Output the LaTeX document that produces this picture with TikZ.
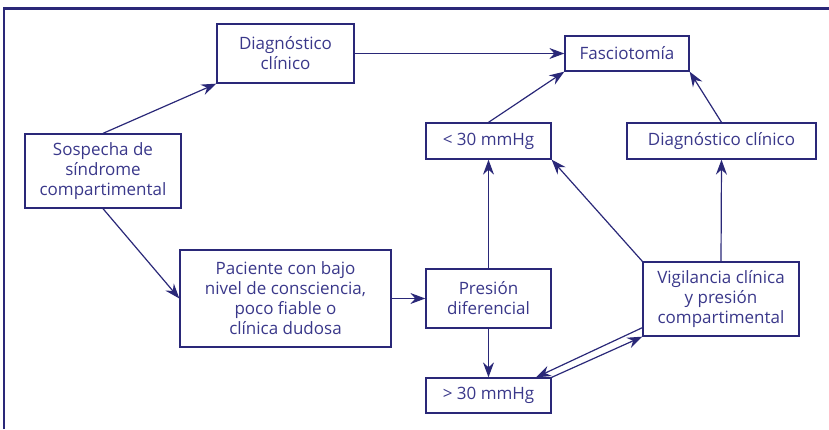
\documentclass[tikz,border=0pt]{standalone}
\usepackage{fontspec}
\setmainfont{Open Sans}
\usetikzlibrary{arrows.meta,calc}
\definecolor{navy}{RGB}{42,40,120}
\definecolor{txt}{RGB}{58,56,138}
\begin{document}
\begin{tikzpicture}[x=1pt,y=-1pt,
  box/.style={draw=navy,line width=1.3pt,inner sep=0pt,align=center,text=txt,
    font=\fontsize{17}{20}\selectfont},
  arr/.style={draw=navy,line width=1.2pt,-{Stealth[length=15pt,width=11pt,inset=5pt]}}]
\useasboundingbox (0,0) rectangle (829,429);
\draw[navy,line width=2.2pt] (3.7,429) -- (3.7,8.5) -- (829,8.5);
\node[box,minimum width=137pt,minimum height=59pt] (diag1) at (285.5,53.5) {Diagnóstico\\clínico};
\node[box,minimum width=124pt,minimum height=35pt] (fasc) at (627,53.5) {Fasciotomía};
\node[box,minimum width=156pt,minimum height=74pt] (sosp) at (103,171) {Sospecha de\\síndrome\\compartimental};
\node[box,minimum width=125pt,minimum height=36pt] (lt) at (488.5,141) {< 30 mmHg};
\node[box,minimum width=189pt,minimum height=36pt] (diag2) at (721.5,141) {Diagnóstico clínico};
\node[box,minimum width=211pt,minimum height=97pt] (pac) at (285.5,298.5) {Paciente con bajo\\nivel de consciencia,\\poco fiable o\\clínica dudosa};
\node[box,minimum width=125pt,minimum height=59pt] (pres) at (488.5,298.5) {Presión\\diferencial};
\node[box,minimum width=156pt,minimum height=74pt] (vig) at (721,299) {Vigilancia clínica\\y presión\\compartimental};
\node[box,minimum width=125pt,minimum height=35pt] (gt) at (488.5,395.5) {> 30 mmHg};
\coordinate (v1) at ([yshift=9pt]vig.south west);
\coordinate (g1) at ([xshift=47.5pt]gt.north);
\draw[arr] (sosp.north) -- (diag1.south west);
\draw[arr] (diag1.east) -- (fasc.west);
\draw[arr] (sosp.south) -- (pac.west);
\draw[arr] (pac.east) -- (pres.west);
\draw[arr] (pres.north) -- (lt.south);
\draw[arr] (pres.south) -- (gt.north);
\draw[arr] (lt.north) -- (fasc.south west);
\draw[arr] (vig.north west) -- (lt.south east);
\draw[arr] (vig.north) -- (diag2.south);
\draw[arr] (diag2.north) -- (fasc.south east);
\draw[arr] (v1) -- (g1);
\draw[arr] (gt.north east) -- (vig.south west);
\end{tikzpicture}
\end{document}
